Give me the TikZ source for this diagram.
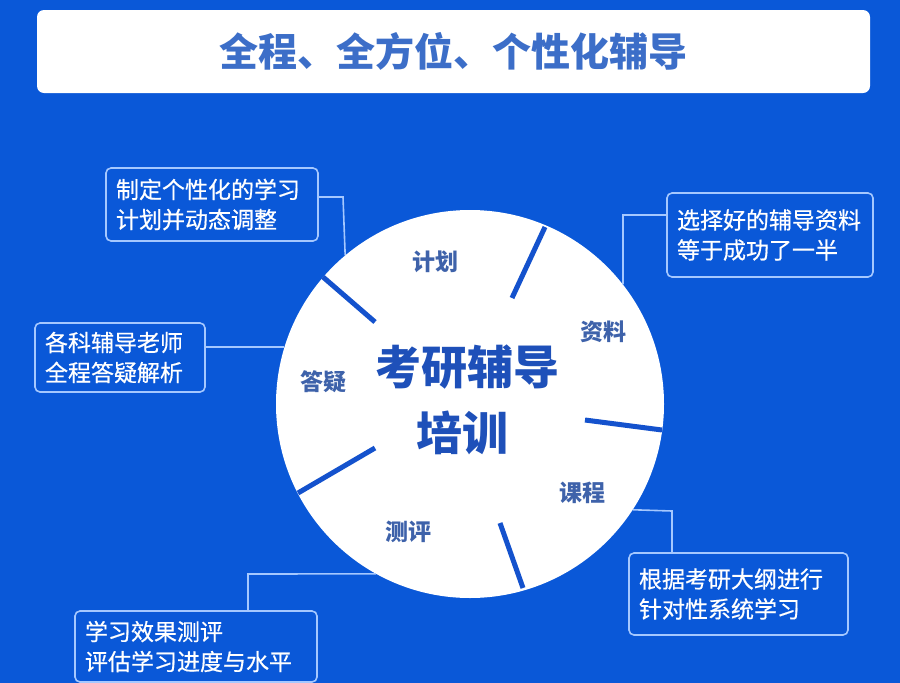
\documentclass[tikz,border=0pt]{standalone}
\usepackage{fontspec}
\setmainfont{Noto Sans CJK SC}
\newfontfamily\boxfont[FakeBold=0.6]{Noto Sans CJK SC}
\definecolor{bgblue}{RGB}{10,88,216}
\definecolor{titleblue}{RGB}{60,110,200}
\definecolor{lineblue}{RGB}{165,200,255}
\definecolor{labelblue}{RGB}{62,98,170}
\definecolor{centerblue}{RGB}{30,80,185}
\definecolor{divblue}{RGB}{20,82,205}
\tikzset{
  infobox/.style={draw=lineblue, line width=1.6pt, rounded corners=5pt, text=white,
    font=\boxfont\fontsize{23}{30}\selectfont, align=left, inner xsep=10pt, inner ysep=0pt},
  conn/.style={lineblue, line width=1.6pt},
  divider/.style={divblue, line width=5pt},
  seglabel/.style={text=labelblue, font=\fontsize{23}{23}\selectfont\bfseries},
  centertext/.style={text=centerblue, font=\fontsize{46}{46}\selectfont\bfseries}
}
\begin{document}
\begin{tikzpicture}[x=1pt,y=-1pt]
\fill[bgblue] (0,0) rectangle (900,683);
\useasboundingbox (0,0) rectangle (900,683);
% title
\node[fill=white, rounded corners=7pt, minimum width=833pt, minimum height=83pt,
  text=titleblue, font=\fontsize{39}{39}\selectfont\bfseries] (T) at (453.5,51.5) {全程、全方位、个性化辅导};
% circle
\node[circle, fill=white, minimum size=388pt, inner sep=0pt] (C) at (470,404) {};
% dividers
\draw[divider] (545,227) -- (512,298);
\draw[divider] (323,277) -- (375,322);
\draw[divider] (585,420) -- (662,430);
\draw[divider] (298,493) -- (375,448);
\draw[divider] (500,523) -- (523,588);
% center text
\node[centertext] (t1) at (467,367) {考研辅导};
\node[centertext] (t2) at (462,433) {培训};
% segment labels
\node[seglabel] (l1) at (435,262) {计划};
\node[seglabel] (l2) at (603,332) {资料};
\node[seglabel] (l3) at (323,382) {答疑};
\node[seglabel] (l4) at (582,493) {课程};
\node[seglabel] (l5) at (408,532) {测评};
% boxes
\node[infobox, text width=192pt, minimum height=73pt] (b1) at (212,204.5) {制定个性化的学习\\计划并动态调整};
\node[infobox, text width=150pt, minimum height=69pt] (b2) at (120,357.5) {各科辅导老师\\全程答疑解析};
\node[infobox, text width=186pt, minimum height=84pt] (b3) at (770,235) {选择好的辅导资料\\等于成功了一半};
\node[infobox, text width=199pt, minimum height=82pt] (b4) at (738.5,594) {根据考研大纲进行\\针对性系统学习};
\node[infobox, text width=222pt, minimum height=71pt] (b5) at (196,646.5) {学习效果测评\\评估学习进度与水平};
% connectors
\coordinate (k1) at (343,197);
\coordinate (k3) at (623,215);
\coordinate (k4) at (672,511);
\coordinate (k5) at (248,574);
\draw[conn] (b1.east |- k1) -- (k1) -- (C.130.9);
\draw[conn] (b2.east |- C.163.8) -- (C.163.8);
\draw[conn] (b3.west |- k3) -- (k3) -- (C.38);
\draw[conn] (b4.north -| k4) -- (k4) -- (C.-33.5);
\draw[conn] (b5.north -| k5) -- (k5) -- (C.241.2);
\end{tikzpicture}
\end{document}
